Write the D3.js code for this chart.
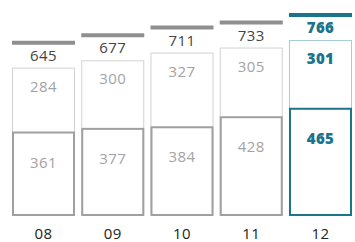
<!DOCTYPE html>
<html lang="en">
<head>
<meta charset="UTF-8">
<title>Stacked totals</title>
<style>
    body, html {
        margin: 0;
        padding: 0;
        background: #fff;
        overflow: hidden;
    }
    text {
        font-family: 'Open Sans', sans-serif;
        letter-spacing: 0.4px;
    }
</style>
</head>
<body>
<div id="chart"></div>
<script src="https://d3js.org/d3.v7.min.js"></script>
<script>
    const years = ["08", "09", "10", "11", "12"];
    const lower = [361, 377, 384, 428, 465];
    const upper = [284, 300, 327, 305, 301];
    const totals = [645, 677, 711, 733, 766];

    const width = 355, height = 242;

    const svg = d3.select("#chart").append("svg")
        .attr("width", width)
        .attr("height", height);

    const x = d3.scaleBand()
        .domain(years)
        .range([12, 352])
        .paddingInner(0.09)
        .paddingOuter(0);

    const y = d3.scaleLinear()
        .domain([0, 766])
        .range([215, 40]);

    const teal = "#1b7489";
    const isLast = i => i === years.length - 1;

    years.forEach((yr, i) => {
        const g = svg.append("g");
        const x0 = x(yr), bw = x.bandwidth();
        const last = isLast(i);

        // outline of the whole column
        g.append("rect")
            .attr("x", x0 + 0.5)
            .attr("y", y(totals[i]) + 0.5)
            .attr("width", bw - 1)
            .attr("height", y(0) - y(totals[i]) - 1)
            .attr("fill", "none")
            .attr("stroke", last ? "#a8cdd6" : "#d2d2d2")
            .attr("stroke-width", 1);

        // lower segment
        g.append("rect")
            .attr("x", x0 + 1)
            .attr("y", y(lower[i]))
            .attr("width", bw - 2)
            .attr("height", y(0) - y(lower[i]))
            .attr("fill", "#fff")
            .attr("stroke", last ? teal : "#a0a0a0")
            .attr("stroke-width", 2);

        // thick cap line
        g.append("line")
            .attr("x1", x0)
            .attr("x2", x0 + bw)
            .attr("y1", y(totals[i]) - 25)
            .attr("y2", y(totals[i]) - 25)
            .attr("stroke", last ? teal : "#8f8f8f")
            .attr("stroke-width", 4);

        g.append("text")
            .attr("x", x0 + bw / 2)
            .attr("y", y(totals[i]) - 7)
            .attr("text-anchor", "middle")
            .attr("font-size", 15)
            .attr("font-weight", last ? 800 : 400)
            .attr("fill", last ? teal : "#444")
            .text(totals[i]);

        g.append("text")
            .attr("x", x0 + bw / 2)
            .attr("y", y(totals[i]) + 24)
            .attr("text-anchor", "middle")
            .attr("font-size", 15)
            .attr("font-weight", last ? 800 : 400)
            .attr("fill", last ? teal : "#a3a3a3")
            .text(upper[i]);

        g.append("text")
            .attr("x", x0 + bw / 2)
            .attr("y", y(lower[i]) + 35)
            .attr("text-anchor", "middle")
            .attr("font-size", 15)
            .attr("font-weight", last ? 800 : 400)
            .attr("fill", last ? teal : "#a3a3a3")
            .text(lower[i]);
    });

    const xAxis = svg.append("g")
        .attr("transform", "translate(0,215)")
        .call(d3.axisBottom(x).tickSize(0).tickPadding(13));
    xAxis.select(".domain").remove();
    xAxis.selectAll("text")
        .attr("font-size", 15)
        .attr("font-weight", 500)
        .attr("fill", "#222")
        .style("font-family", "'Open Sans', sans-serif");
</script>
</body>
</html>
